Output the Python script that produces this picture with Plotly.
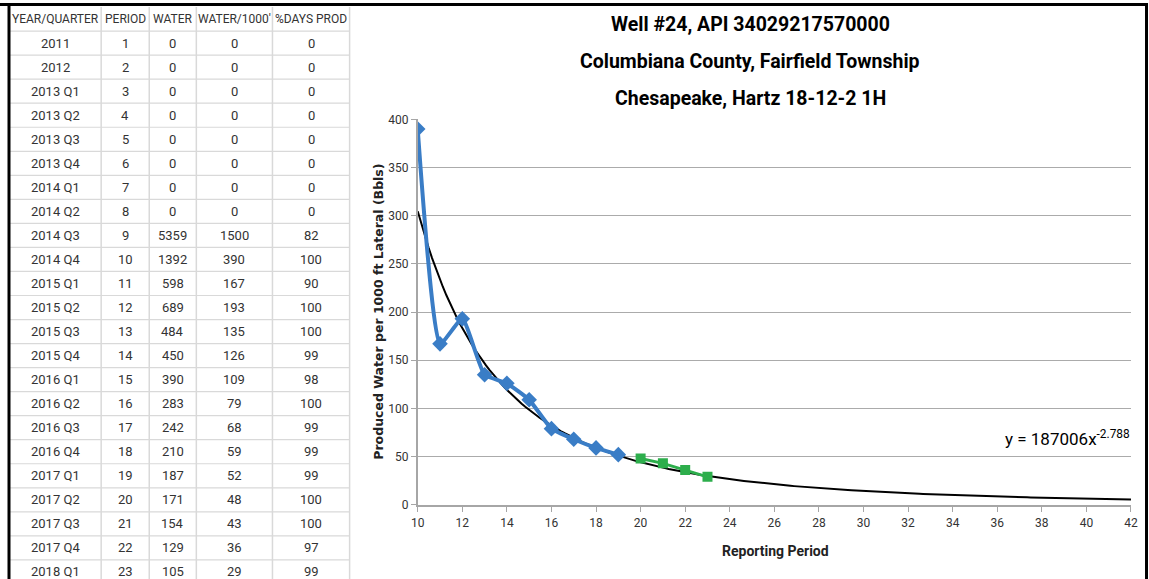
import numpy as np
import plotly.graph_objects as go

W, H = 1149, 579
# the plotting "paper" area is rendered inset by 8px on every side of the figure
INSET = 8
PW, PH = W - 2 * INSET, H - 2 * INSET

# ---------------- data ----------------
year_quarter = ["2011", "2012", "2013 Q1", "2013 Q2", "2013 Q3", "2013 Q4", "2014 Q1", "2014 Q2",
                "2014 Q3", "2014 Q4", "2015 Q1", "2015 Q2", "2015 Q3", "2015 Q4", "2016 Q1", "2016 Q2",
                "2016 Q3", "2016 Q4", "2017 Q1", "2017 Q2", "2017 Q3", "2017 Q4", "2018 Q1"]
period = list(range(1, 24))
water = [0, 0, 0, 0, 0, 0, 0, 0, 5359, 1392, 598, 689, 484, 450, 390, 283, 242, 210, 187, 171, 154, 129, 105]
water_per_1000 = [0, 0, 0, 0, 0, 0, 0, 0, 1500, 390, 167, 193, 135, 126, 109, 79, 68, 59, 52, 48, 43, 36, 29]
pct_days_prod = [0, 0, 0, 0, 0, 0, 0, 0, 82, 100, 90, 100, 100, 99, 98, 100, 99, 99, 99, 100, 100, 97, 99]
headers = ["YEAR/QUARTER", "PERIOD", "WATER", "WATER/1000'", "%DAYS PROD"]

blue_x = period[9:19]          # periods 10-19
blue_y = water_per_1000[9:19]
green_x = period[19:23]        # periods 20-23
green_y = water_per_1000[19:23]

trend_a, trend_b = 187006, -2.788
trend_x = np.linspace(10, 42, 200)
trend_y = trend_a * trend_x ** trend_b

x_ticks = list(range(10, 43, 2))
y_ticks = list(range(0, 401, 50))

title_lines = ["Well #24, API 34029217570000", "Columbiana County, Fairfield Township",
               "Chesapeake, Hartz 18-12-2 1H"]

# ---------------- helpers (page pixel -> paper fraction) ----------------
def px(x):
    return (x - INSET) / PW

def py(y):
    return 1 - (y - INSET) / PH

NARROW = "Liberation Sans Narrow, Arial Narrow, Roboto, sans-serif"

fig = go.Figure()

fig.add_trace(go.Scatter(x=trend_x, y=trend_y, mode="lines",
                         line=dict(color="black", width=2), hoverinfo="skip", showlegend=False))
fig.add_trace(go.Scatter(x=blue_x, y=blue_y, mode="lines+markers",
                         line=dict(color="#3A7DC6", width=4, shape="spline", smoothing=0.45),
                         marker=dict(symbol="diamond", size=12, color="#3A7DC6"), showlegend=False))
fig.add_trace(go.Scatter(x=green_x, y=green_y, mode="lines+markers",
                         line=dict(color="#2DAE4C", width=3),
                         marker=dict(symbol="square", size=10, color="#2DAE4C"), showlegend=False))

plot_l, plot_r, plot_t, plot_b = 418, 1130, 120, 504

fig.update_layout(
    width=W, height=H,
    margin=dict(l=0, r=0, t=0, b=0),
    paper_bgcolor="white", plot_bgcolor="white",
    xaxis=dict(domain=[px(plot_l), px(plot_r)], range=[10, 42], tickvals=x_ticks,
               showgrid=False, showline=True, linecolor="#A6A6A6", linewidth=1.5,
               ticks="outside", ticklen=5, tickcolor="#A6A6A6", zeroline=False,
               ticklabelstandoff=1,
               tickfont=dict(family=NARROW, size=12, color="#333333")),
    yaxis=dict(domain=[py(plot_b), py(plot_t)], range=[0, 400], tickvals=y_ticks,
               showgrid=True, gridcolor="#ABABAB", gridwidth=1.3,
               showline=True, linecolor="#A6A6A6", linewidth=1.5,
               ticks="outside", ticklen=5, tickcolor="#A6A6A6", zeroline=False,
               tickfont=dict(family=NARROW, size=12, color="#333333")),
    showlegend=False,
)

ann = []
shapes = []

# titles
for i, t in enumerate(title_lines):
    ann.append(dict(text="<b>" + t + "</b>", x=px(750), y=py(25 + i * 37), xref="paper", yref="paper",
                    showarrow=False, xanchor="center", yanchor="middle",
                    font=dict(family=NARROW, size=19.5, color="black")))
# axis titles
ann.append(dict(text="<b>Produced Water per 1000 ft Lateral (Bbls)</b>", x=px(378), y=py(312),
                xref="paper", yref="paper", showarrow=False, textangle=-90,
                xanchor="center", yanchor="middle",
                font=dict(family="DejaVu Sans, Verdana, sans-serif", size=12.5, color="#222222")))
ann.append(dict(text="<b>Reporting Period</b>", x=px(775), y=py(550), xref="paper", yref="paper",
                showarrow=False, xanchor="center", yanchor="middle",
                font=dict(family=NARROW, size=14, color="#222222")))
ann.append(dict(text="y = 187006x<sup>-2.788</sup>", x=px(1131), y=py(437), xref="paper", yref="paper",
                showarrow=False, xanchor="right", yanchor="middle",
                font=dict(family=NARROW, size=17, color="black")))

# table
col_edges = [10, 102, 150, 197, 273, 350]
header_top = 8
first_center = 44
row_h = 23.95
cols = [year_quarter, period, water, water_per_1000, pct_days_prod]

for j, h in enumerate(headers):
    cx = (col_edges[j] + col_edges[j + 1]) / 2
    ann.append(dict(text=h, x=px(cx), y=py(19.5), xref="paper", yref="paper", showarrow=False,
                    xanchor="center", yanchor="middle",
                    font=dict(family=NARROW, size=12, color="#333333")))
for i in range(len(year_quarter)):
    cy = first_center + i * row_h
    for j, col in enumerate(cols):
        cx = (col_edges[j] + col_edges[j + 1]) / 2
        ann.append(dict(text=str(col[i]), x=px(cx), y=py(cy), xref="paper", yref="paper",
                        showarrow=False, xanchor="center", yanchor="middle",
                        font=dict(family=NARROW, size=13, color="#333333")))

grid_col = "#D9D9D9"
for i in range(len(year_quarter) + 1):
    yy = first_center - row_h / 2 + i * row_h
    shapes.append(dict(type="line", xref="paper", yref="paper", x0=px(10), x1=px(350),
                       y0=py(yy), y1=py(yy), line=dict(color=grid_col, width=1.2)))
for xe in col_edges[1:]:
    shapes.append(dict(type="line", xref="paper", yref="paper", x0=px(xe), x1=px(xe),
                       y0=py(header_top), y1=py(H), line=dict(color=grid_col, width=1.5)))

# black frame
shapes.append(dict(type="line", xref="paper", yref="paper", x0=px(0), x1=px(1147),
                   y0=py(5.5), y1=py(5.5), line=dict(color="black", width=3)))
shapes.append(dict(type="line", xref="paper", yref="paper", x0=px(10), x1=px(10),
                   y0=py(5), y1=py(H), line=dict(color="black", width=3)))
shapes.append(dict(type="line", xref="paper", yref="paper", x0=px(1145.5), x1=px(1145.5),
                   y0=py(5), y1=py(H), line=dict(color="black", width=3)))

fig.update_layout(annotations=ann, shapes=shapes)

fig.write_html("out.html")
